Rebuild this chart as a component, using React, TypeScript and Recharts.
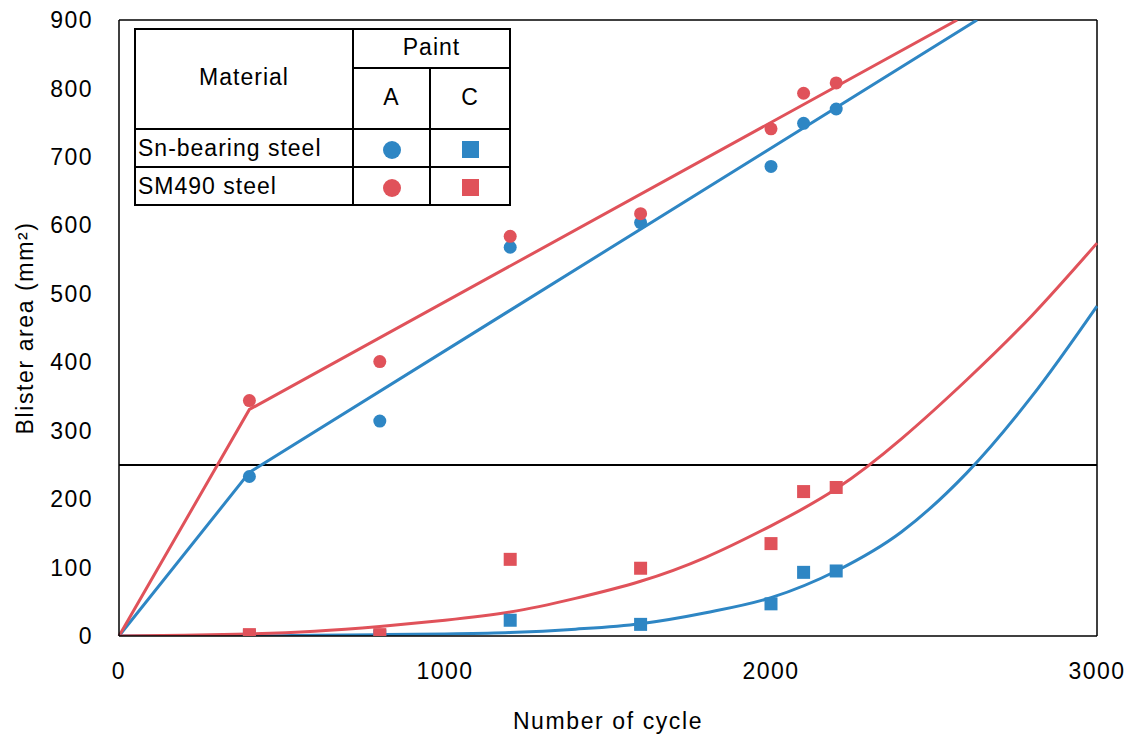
import {
  ComposedChart,
  Line,
  Scatter,
  XAxis,
  YAxis,
  ReferenceLine,
  Label,
} from "recharts";

const BLUE = "#2e86c4";
const RED = "#e0525a";
const FONT = "'Liberation Sans', Arial, sans-serif";

// measured points
const cycles = [400, 800, 1200, 1600, 2000, 2100, 2200];
const snPaintA = [233, 314, 568, 604, 686, 749, 770];
const smPaintA = [344, 401, 584, 617, 741, 793, 808];
const snPaintC = [0, 0, 23, 17, 47, 93, 95];
const smPaintC = [2, 2, 112, 99, 135, 211, 217];

// fitted lines
const snFitAX = [0, 400, 2632];
const snFitAY = [0, 239, 900];
const smFitAX = [0, 400, 2571];
const smFitAY = [0, 331, 900];

const curveX = [0, 200, 400, 600, 800, 1000, 1200, 1400, 1600, 1800, 2000, 2200, 2400, 2600, 2800, 3000];
const snFitC = [0, 0, 0, 1, 2, 3, 5, 10, 18, 34, 56, 95, 152, 238, 350, 482];
const smFitC = [0, 1, 3, 7, 14, 23, 35, 55, 80, 115, 161, 215, 288, 374, 468, 574];

const xTicks = [0, 1000, 2000, 3000];
const yTicks = [0, 100, 200, 300, 400, 500, 600, 700, 800, 900];

const pts = (xs: number[], ys: number[]) => xs.map((x, i) => ({ x, y: ys[i] }));

const circle = (color: string) => (props: any) => (
  <circle cx={props.cx} cy={props.cy} r={6.5} fill={color} />
);
const square = (color: string) => (props: any) => (
  <rect x={props.cx - 6.5} y={props.cy - 6.5} width={13} height={13} fill={color} />
);

const cell: React.CSSProperties = {
  border: "2px solid #000",
  padding: 0,
  textAlign: "center",
  verticalAlign: "middle",
};

function LegendTable() {
  const dot = (c: string) => (
    <span style={{ display: "inline-block", width: 18, height: 18, borderRadius: 9, background: c, verticalAlign: "middle" }} />
  );
  const sq = (c: string) => (
    <span style={{ display: "inline-block", width: 17, height: 17, background: c, verticalAlign: "middle" }} />
  );
  return (
    <table
      style={{
        position: "absolute",
        left: 134,
        top: 28,
        borderCollapse: "collapse",
        fontFamily: FONT,
        fontSize: 23,
        letterSpacing: 1,
        color: "#000",
        background: "#fff",
        lineHeight: "26px",
      }}
    >
      <tbody>
        <tr style={{ height: 39 }}>
          <td rowSpan={2} style={{ ...cell, width: 216, paddingBottom: 4 }}>Material</td>
          <td colSpan={2} style={{ ...cell, paddingBottom: 4 }}>Paint</td>
        </tr>
        <tr style={{ height: 61 }}>
          <td style={{ ...cell, width: 75, paddingBottom: 4 }}>A</td>
          <td style={{ ...cell, width: 78, paddingBottom: 4 }}>C</td>
        </tr>
        <tr style={{ height: 38 }}>
          <td style={{ ...cell, textAlign: "left", paddingLeft: 2 }}>Sn-bearing steel</td>
          <td style={cell}>{dot(BLUE)}</td>
          <td style={cell}>{sq(BLUE)}</td>
        </tr>
        <tr style={{ height: 38 }}>
          <td style={{ ...cell, textAlign: "left", paddingLeft: 2 }}>SM490 steel</td>
          <td style={cell}>{dot(RED)}</td>
          <td style={cell}>{sq(RED)}</td>
        </tr>
      </tbody>
    </table>
  );
}

export default function App() {
  const tickStyle = { fill: "#000", fontSize: 23, fontFamily: FONT, letterSpacing: 1.5 };
  const labelStyle = { fill: "#000", fontSize: 23, fontFamily: FONT, letterSpacing: 1.6 };
  return (
    <div style={{ position: "absolute", left: 0, top: 0, width: 1130, height: 736, background: "#fff" }}>
      <ComposedChart width={1130} height={736} margin={{ top: 20, right: 33, left: 0, bottom: 0 }}>
        <XAxis
          dataKey="x"
          type="number"
          domain={[0, 3000]}
          ticks={xTicks}
          tick={tickStyle}
          tickLine={false}
          tickMargin={21}
          height={100}
          axisLine={{ stroke: "#000", strokeWidth: 1.5 }}
        >
          <Label value="Number of cycle" position="insideBottom" offset={7} style={labelStyle} />
        </XAxis>
        <YAxis
          dataKey="y"
          type="number"
          domain={[0, 900]}
          ticks={yTicks}
          tick={tickStyle}
          tickLine={false}
          tickMargin={20}
          width={119}
          allowDataOverflow
          axisLine={{ stroke: "#000", strokeWidth: 1.5 }}
        >
          <Label
            value="Blister area (mm²)"
            angle={-90}
            position="center"
            dx={-35}
            style={{ ...labelStyle, textAnchor: "middle" }}
          />
        </YAxis>

        <ReferenceLine y={900} stroke="#000" strokeWidth={1.5} />
        <ReferenceLine x={3000} stroke="#000" strokeWidth={1.5} />
        <ReferenceLine y={250} stroke="#000" strokeWidth={2} />

        <Line data={pts(snFitAX, snFitAY)} dataKey="y" type="linear" stroke={BLUE} strokeWidth={3} dot={false} isAnimationActive={false} />
        <Line data={pts(smFitAX, smFitAY)} dataKey="y" type="linear" stroke={RED} strokeWidth={3} dot={false} isAnimationActive={false} />
        <Line data={pts(curveX, snFitC)} dataKey="y" type="monotone" stroke={BLUE} strokeWidth={3} dot={false} isAnimationActive={false} />
        <Line data={pts(curveX, smFitC)} dataKey="y" type="natural" stroke={RED} strokeWidth={3} dot={false} isAnimationActive={false} />

        <Scatter data={pts(cycles, snPaintA)} shape={circle(BLUE)} isAnimationActive={false} />
        <Scatter data={pts(cycles, smPaintA)} shape={circle(RED)} isAnimationActive={false} />
        <Scatter data={pts(cycles, snPaintC)} shape={square(BLUE)} isAnimationActive={false} />
        <Scatter data={pts(cycles, smPaintC)} shape={square(RED)} isAnimationActive={false} />
      </ComposedChart>
      <LegendTable />
    </div>
  );
}
